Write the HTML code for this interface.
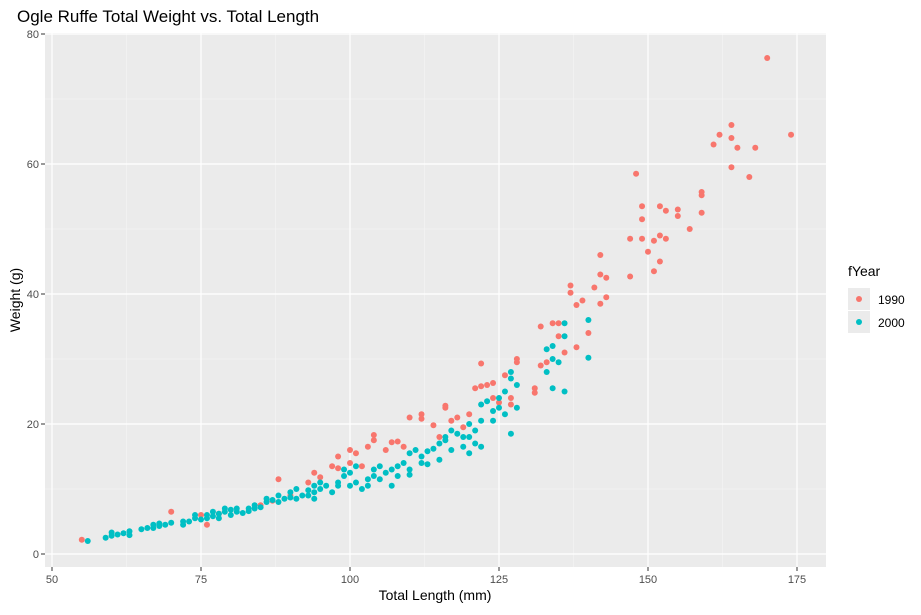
<!DOCTYPE html>
<html><head><meta charset="utf-8"><style>
body{margin:0;background:#fff;font-family:"Liberation Sans",Arial,sans-serif}
</style></head><body>
<svg id="chart" width="921" height="610">
<rect width="921" height="610" fill="#fff"/>
<text x="17" y="22" font-size="17" fill="#000">Ogle Ruffe Total Weight vs. Total Length</text>
<rect x="45" y="33" width="781" height="534" fill="#ebebeb"/>
<g id="grid"></g>
<g id="ticks"></g>
<g id="points"></g>
<text x="435" y="600" font-size="14" text-anchor="middle">Total Length (mm)</text>
<text transform="translate(20,300) rotate(-90)" font-size="14" text-anchor="middle">Weight (g)</text>
<g>
<text x="848" y="276" font-size="14">fYear</text>
<rect x="848" y="288" width="22" height="22" fill="#ebebeb"/>
<circle cx="859" cy="299" r="3" fill="#f8766d"/>
<text x="878" y="304" font-size="12">1990</text>
<rect x="848" y="311" width="22" height="22" fill="#ebebeb"/>
<circle cx="859" cy="322" r="3" fill="#00bfc4"/>
<text x="878" y="327" font-size="12">2000</text>
</g>
</svg>
<script>
const xTicks=[50,75,100,125,150,175];
const yTicks=[0,20,40,60,80];
const red=[[55,2.2],[70,6.5],[76,4.5],[75,6],[78,6.2],[85,7.5],[87,8.2],[88,11.5],[90,9],[93,11],[94,12.5],[95,11.8],[97,13.5],[98,13.2],[98,15],[100,14],[100,16],[101,15.5],[102,13.5],[103,16.5],[104,17.5],[104,18.3],[106,16],[107,17.2],[108,17.3],[109,16.5],[110,21],[112,20.8],[112,21.5],[114,19.8],[115,18],[116,22.5],[116,22.8],[117,20.5],[118,21],[119,19.5],[120,21.5],[121,25.5],[122,29.3],[122,25.8],[123,26],[124,26.3],[124,24],[125,23.3],[126,27.5],[127,24],[127,23],[128,30],[128,29.5],[131,25.5],[131,24.8],[132,35],[132,29],[133,29.5],[134,35.5],[135,35.5],[135,33.5],[136,31],[137,41.3],[137,40.2],[138,38.3],[138,31.8],[139,39],[140,34],[141,41],[142,46],[142,43],[142,38.5],[143,39.5],[143,42.5],[147,48.5],[147,42.7],[148,58.5],[149,53.5],[149,51.5],[149,48.5],[150,46.5],[151,48.2],[151,43.5],[152,53.5],[152,49],[152,45],[153,48.5],[153,52.8],[155,53],[155,52],[157,50],[159,55.7],[159,55.2],[159,52.5],[161,63],[162,64.5],[164,66],[164,64],[164,59.5],[165,62.5],[167,58],[168,62.5],[170,76.3],[174,64.5]];
const cyan=[[56,2],[59,2.5],[60,2.8],[60,3.3],[61,3],[62,3.2],[63,3.5],[63,2.9],[65,3.8],[66,4],[67,4],[67,4.5],[68,4.3],[68,4.7],[69,4.5],[70,4.8],[72,4.5],[72,5],[73,5],[74,5.5],[74,6],[75,5.3],[76,5.5],[76,6],[77,6.5],[77,5.8],[78,6.2],[78,5.5],[79,6.5],[79,7],[80,6],[80,6.8],[81,7],[81,6.5],[82,6.3],[83,7],[83,6.6],[84,7],[84,7.5],[85,7.2],[86,8],[86,8.5],[87,8.3],[88,8],[88,9],[89,8.5],[90,8.7],[90,9.5],[91,8.5],[91,10],[92,9],[93,9],[93,9.8],[94,10.5],[94,9.5],[94,8.5],[95,10],[95,11],[96,10.5],[97,9.5],[98,11],[98,10.5],[99,12],[99,13],[100,12.5],[100,10.5],[101,11],[101,13.5],[102,10],[103,11.5],[103,10.5],[104,13],[104,12],[105,13.5],[105,11.5],[106,12.5],[107,10.5],[107,13],[108,12],[108,13.5],[109,14],[110,13],[110,12.2],[110,15.5],[111,16],[112,14],[112,15],[113,15.8],[113,13.8],[114,16.2],[115,14.5],[115,17],[116,18],[116,17.5],[117,19],[117,16],[118,18.5],[119,18],[119,16.5],[120,15.5],[120,20],[120,18],[121,19],[121,17],[122,20.5],[122,23],[122,16.5],[123,23.5],[124,22],[124,20.5],[125,24],[125,22.5],[126,25],[126,21.5],[127,28],[127,27],[127,18.5],[128,26],[128,22.5],[133,28],[133,31.5],[134,30],[134,32],[135,29.5],[136,35.5],[136,33.5],[136,25],[134,25.5],[140,36],[140,30.2]];
const NS="http://www.w3.org/2000/svg";
function xs(v){return 52+(v-50)*5.96;}
function ys(v){return 554-v*6.5;}
function mk(tag,attrs,parent){const e=document.createElementNS(NS,tag);for(const k in attrs)e.setAttribute(k,attrs[k]);parent.appendChild(e);return e;}
const grid=document.getElementById('grid'),ticks=document.getElementById('ticks'),pts=document.getElementById('points');
for(let i=0;i<xTicks.length-1;i++){const m=(xTicks[i]+xTicks[i+1])/2;mk('line',{x1:xs(m),x2:xs(m),y1:33,y2:567,stroke:'#f5f5f5','stroke-width':0.6},grid);}
mk('line',{x1:xs(37.5),x2:xs(37.5),y1:33,y2:567,stroke:'#f5f5f5','stroke-width':0.6},grid);
for(let i=0;i<yTicks.length-1;i++){const m=(yTicks[i]+yTicks[i+1])/2;mk('line',{x1:45,x2:826,y1:ys(m),y2:ys(m),stroke:'#f5f5f5','stroke-width':0.6},grid);}
xTicks.forEach(t=>{
 const l=mk('line',{x1:xs(t),x2:xs(t),y1:33,y2:567,stroke:'#fff','stroke-width':1.2},grid);
 
 
 mk('line',{x1:xs(t),x2:xs(t),y1:567,y2:571,stroke:'#333'},ticks);
 const tx=mk('text',{x:xs(t),y:583,'font-size':11,fill:'#4d4d4d','text-anchor':'middle'},ticks);
 tx.textContent=t;
 
 
});
yTicks.forEach(t=>{
 const l=mk('line',{x1:45,x2:826,y1:ys(t),y2:ys(t),stroke:'#fff','stroke-width':1.2},grid);
 
 
 mk('line',{x1:41,x2:45,y1:ys(t),y2:ys(t),stroke:'#333'},ticks);
 const tx=mk('text',{x:39,y:ys(t)+4,'font-size':11,fill:'#4d4d4d','text-anchor':'end'},ticks);
 tx.textContent=t;
 
 
});
red.forEach(p=>{const c=mk('circle',{cx:xs(p[0]),cy:ys(p[1]),r:3,fill:'#f8766d'},pts);
 
 });
cyan.forEach(p=>{const c=mk('circle',{cx:xs(p[0]),cy:ys(p[1]),r:3,fill:'#00bfc4'},pts);
 
 });
</script>
</body></html>
